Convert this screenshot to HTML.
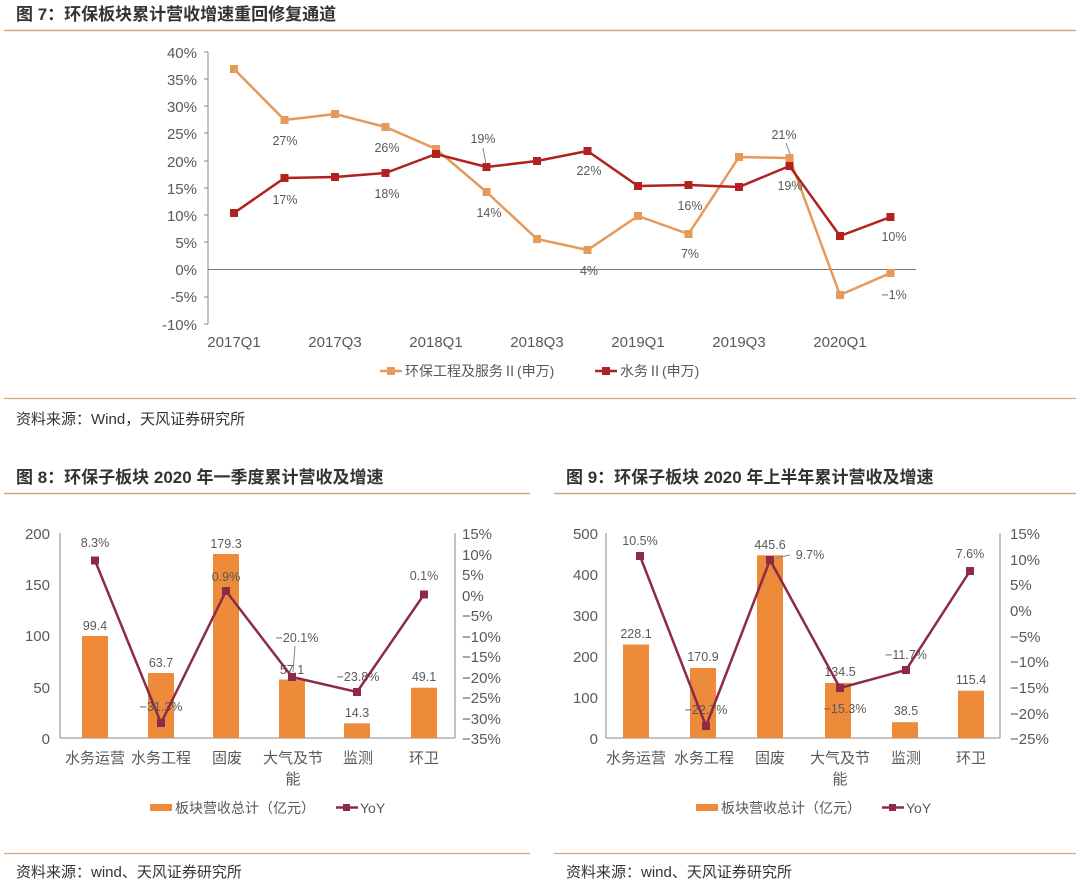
<!DOCTYPE html>
<html><head><meta charset="utf-8"><style>
body{margin:0;background:#fff}
svg{display:block}
text{font-family:"Liberation Sans","Noto Sans CJK SC",sans-serif;fill:#595959}
.t{font-weight:bold;fill:#333;font-size:17px}
.s{font-size:15px;fill:#333}
.ax{font-size:15px;fill:#555}
.lb{font-size:12.5px;fill:#595959}
</style></head><body>
<svg width="1080" height="885" viewBox="0 0 1080 885">
<!-- Chart 7 -->
<text x="16" y="20" class="t">图 7：环保板块累计营收增速重回修复通道</text>
<line x1="4" y1="30.5" x2="1076" y2="30.5" stroke="#d4aa7d" stroke-width="1.5"/>
<g class="ax" text-anchor="end">
<text x="197" y="58">40%</text><text x="197" y="85">35%</text><text x="197" y="112">30%</text>
<text x="197" y="139">25%</text><text x="197" y="167">20%</text><text x="197" y="194">15%</text>
<text x="197" y="221">10%</text><text x="197" y="248">5%</text><text x="197" y="275">0%</text>
<text x="197" y="302">-5%</text><text x="197" y="330">-10%</text>
</g>
<line x1="208" y1="52" x2="208" y2="324" stroke="#888"/>
<g stroke="#888"><line x1="204" y1="52" x2="208" y2="52"/><line x1="204" y1="79" x2="208" y2="79"/><line x1="204" y1="106" x2="208" y2="106"/><line x1="204" y1="133" x2="208" y2="133"/><line x1="204" y1="161" x2="208" y2="161"/><line x1="204" y1="188" x2="208" y2="188"/><line x1="204" y1="215" x2="208" y2="215"/><line x1="204" y1="242" x2="208" y2="242"/><line x1="204" y1="297" x2="208" y2="297"/><line x1="204" y1="324" x2="208" y2="324"/></g>
<line x1="208" y1="269.5" x2="916" y2="269.5" stroke="#777"/>
<g class="ax" text-anchor="middle">
<text x="234" y="347">2017Q1</text><text x="335" y="347">2017Q3</text><text x="436" y="347">2018Q1</text>
<text x="537" y="347">2018Q3</text><text x="638" y="347">2019Q1</text><text x="739" y="347">2019Q3</text><text x="840" y="347">2020Q1</text>
</g>
<polyline fill="none" stroke="#e59a5c" stroke-width="2.5" points="234,69 284.5,120 335,114 385.5,127 436,149 486.5,192 537,239 587.5,250 638,216 688.5,234 739,157 789.5,158 840,295 890.5,273"/>
<g fill="#e59a5c">
<rect x="230" y="65" width="8" height="8"/><rect x="280.5" y="116" width="8" height="8"/><rect x="331" y="110" width="8" height="8"/><rect x="381.5" y="123" width="8" height="8"/><rect x="432" y="145" width="8" height="8"/><rect x="482.5" y="188" width="8" height="8"/><rect x="533" y="235" width="8" height="8"/><rect x="583.5" y="246" width="8" height="8"/><rect x="634" y="212" width="8" height="8"/><rect x="684.5" y="230" width="8" height="8"/><rect x="735" y="153" width="8" height="8"/><rect x="785.5" y="154" width="8" height="8"/><rect x="836" y="291" width="8" height="8"/><rect x="886.5" y="269" width="8" height="8"/>
</g>
<polyline fill="none" stroke="#b0211f" stroke-width="2.5" points="234,213 284.5,178 335,177 385.5,173 436,154 486.5,167 537,161 587.5,151 638,186 688.5,185 739,187 789.5,166 840,236 890.5,217"/>
<g fill="#b0211f">
<rect x="230" y="209" width="8" height="8"/><rect x="280.5" y="174" width="8" height="8"/><rect x="331" y="173" width="8" height="8"/><rect x="381.5" y="169" width="8" height="8"/><rect x="432" y="150" width="8" height="8"/><rect x="482.5" y="163" width="8" height="8"/><rect x="533" y="157" width="8" height="8"/><rect x="583.5" y="147" width="8" height="8"/><rect x="634" y="182" width="8" height="8"/><rect x="684.5" y="181" width="8" height="8"/><rect x="735" y="183" width="8" height="8"/><rect x="785.5" y="162" width="8" height="8"/><rect x="836" y="232" width="8" height="8"/><rect x="886.5" y="213" width="8" height="8"/>
</g>
<g class="lb" text-anchor="middle">
<text x="285" y="145">27%</text><text x="387" y="152">26%</text><text x="285" y="204">17%</text><text x="387" y="198">18%</text>
<text x="483" y="143">19%</text><text x="589" y="175">22%</text><text x="489" y="217">14%</text><text x="589" y="275">4%</text>
<text x="690" y="210">16%</text><text x="690" y="258">7%</text><text x="784" y="139">21%</text><text x="790" y="190">19%</text>
<text x="894" y="241">10%</text><text x="894" y="299">−1%</text>
</g>
<line x1="483" y1="148" x2="486" y2="164" stroke="#888"/>
<line x1="786" y1="143" x2="790" y2="154" stroke="#888"/>
<line x1="380" y1="371" x2="402" y2="371" stroke="#e59a5c" stroke-width="2.5"/><rect x="387" y="367" width="8" height="8" fill="#e59a5c"/>
<text x="405" y="376" class="lb" style="font-size:14px">环保工程及服务Ⅱ(申万)</text>
<line x1="595" y1="371" x2="617" y2="371" stroke="#b0211f" stroke-width="2.5"/><rect x="602" y="367" width="8" height="8" fill="#b0211f"/>
<text x="620" y="376" class="lb" style="font-size:14px">水务Ⅱ(申万)</text>
<line x1="4" y1="398.5" x2="1076" y2="398.5" stroke="#d4aa7d" stroke-width="1.2"/>
<text x="16" y="424" class="s">资料来源：Wind，天风证券研究所</text>

<!-- Chart 8 -->
<text x="16" y="483" class="t">图 8：环保子板块 2020 年一季度累计营收及增速</text>
<line x1="4" y1="493.5" x2="530" y2="493.5" stroke="#d4aa7d" stroke-width="1.5"/>
<g class="ax" text-anchor="end">
<text x="50" y="539">200</text><text x="50" y="590">150</text><text x="50" y="641">100</text><text x="50" y="693">50</text><text x="50" y="744">0</text>
</g>
<line x1="60" y1="533" x2="60" y2="738" stroke="#888"/>
<line x1="60" y1="738" x2="455" y2="738" stroke="#888"/>
<line x1="455" y1="533" x2="455" y2="738" stroke="#888"/>
<g class="ax" text-anchor="start">
<text x="462" y="539">15%</text><text x="462" y="560">10%</text><text x="462" y="580">5%</text><text x="462" y="601">0%</text>
<text x="462" y="621">−5%</text><text x="462" y="642">−10%</text><text x="462" y="662">−15%</text><text x="462" y="683">−20%</text>
<text x="462" y="703">−25%</text><text x="462" y="724">−30%</text><text x="462" y="744">−35%</text>
</g>
<g fill="#ed8b3b">
<rect x="82" y="636" width="26" height="102"/><rect x="148" y="673" width="26" height="65"/><rect x="213" y="554" width="26" height="184"/>
<rect x="279" y="679.5" width="26" height="58.5"/><rect x="344" y="723.3" width="26" height="14.7"/><rect x="411" y="687.7" width="26" height="50.3"/>
</g>
<g class="lb" text-anchor="middle">
<text x="95" y="630">99.4</text><text x="161" y="667">63.7</text><text x="226" y="548">179.3</text><text x="292" y="674">57.1</text><text x="357" y="717">14.3</text><text x="424" y="681">49.1</text>
<text x="95" y="547">8.3%</text><text x="161" y="711">−31.3%</text><text x="226" y="581">0.9%</text><text x="297" y="642">−20.1%</text><text x="358" y="681">−23.8%</text><text x="424" y="580">0.1%</text>
</g>
<line x1="295" y1="646" x2="293" y2="672" stroke="#888"/>
<polyline fill="none" stroke="#8c2a4a" stroke-width="2.5" points="95,560.5 161,723 226,591 292,677 357,692 424,594.5"/>
<g fill="#8c2a4a"><rect x="91" y="556.5" width="8" height="8"/><rect x="157" y="719" width="8" height="8"/><rect x="222" y="587" width="8" height="8"/><rect x="288" y="673" width="8" height="8"/><rect x="353" y="688" width="8" height="8"/><rect x="420" y="590.5" width="8" height="8"/></g>
<g class="ax" text-anchor="middle" style="font-size:15px">
<text x="95" y="763">水务运营</text><text x="161" y="763">水务工程</text><text x="227" y="763">固废</text><text x="293" y="763">大气及节</text><text x="293" y="784">能</text><text x="358" y="763">监测</text><text x="424" y="763">环卫</text>
</g>
<rect x="150" y="804" width="22" height="7" fill="#ed8b3b"/>
<text x="175" y="813" class="lb" style="font-size:14px">板块营收总计（亿元）</text>
<line x1="336" y1="807.5" x2="358" y2="807.5" stroke="#8c2a4a" stroke-width="2.5"/><rect x="343" y="804" width="7" height="7" fill="#8c2a4a"/>
<text x="360" y="813" class="lb" style="font-size:14px">YoY</text>
<line x1="4" y1="853.5" x2="530" y2="853.5" stroke="#d4aa7d" stroke-width="1.2"/>
<text x="16" y="877" class="s">资料来源：wind、天风证券研究所</text>

<!-- Chart 9 -->
<text x="566" y="483" class="t">图 9：环保子板块 2020 年上半年累计营收及增速</text>
<line x1="554" y1="493.5" x2="1076" y2="493.5" stroke="#d4aa7d" stroke-width="1.5"/>
<g class="ax" text-anchor="end">
<text x="598" y="539">500</text><text x="598" y="580">400</text><text x="598" y="621">300</text><text x="598" y="662">200</text><text x="598" y="703">100</text><text x="598" y="744">0</text>
</g>
<line x1="606" y1="533" x2="606" y2="738" stroke="#888"/>
<line x1="606" y1="738" x2="1000" y2="738" stroke="#888"/>
<line x1="1000" y1="533" x2="1000" y2="738" stroke="#888"/>
<g class="ax" text-anchor="start">
<text x="1010" y="539">15%</text><text x="1010" y="565">10%</text><text x="1010" y="590">5%</text><text x="1010" y="616">0%</text>
<text x="1010" y="642">−5%</text><text x="1010" y="667">−10%</text><text x="1010" y="693">−15%</text><text x="1010" y="719">−20%</text><text x="1010" y="744">−25%</text>
</g>
<g fill="#ed8b3b">
<rect x="623" y="644.5" width="26" height="93.5"/><rect x="690" y="668" width="26" height="70"/><rect x="757" y="555.3" width="26" height="182.7"/>
<rect x="825" y="682.9" width="26" height="55.1"/><rect x="892" y="722.2" width="26" height="15.8"/><rect x="958" y="690.7" width="26" height="47.3"/>
</g>
<g class="lb" text-anchor="middle">
<text x="636" y="638">228.1</text><text x="703" y="661">170.9</text><text x="770" y="549">445.6</text><text x="840" y="676">134.5</text><text x="906" y="715">38.5</text><text x="971" y="684">115.4</text>
<text x="640" y="545">10.5%</text><text x="706" y="714">−22.7%</text><text x="810" y="559">9.7%</text><text x="845" y="713">−15.3%</text><text x="906" y="659">−11.7%</text><text x="970" y="558">7.6%</text>
</g>
<line x1="776" y1="558" x2="790" y2="555" stroke="#888"/>
<polyline fill="none" stroke="#8c2a4a" stroke-width="2.5" points="640,556 706,726 770,560 840,688 906,670 970,571"/>
<g fill="#8c2a4a"><rect x="636" y="552" width="8" height="8"/><rect x="702" y="722" width="8" height="8"/><rect x="766" y="556" width="8" height="8"/><rect x="836" y="684" width="8" height="8"/><rect x="902" y="666" width="8" height="8"/><rect x="966" y="567" width="8" height="8"/></g>
<g class="ax" text-anchor="middle">
<text x="636" y="763">水务运营</text><text x="704" y="763">水务工程</text><text x="770" y="763">固废</text><text x="840" y="763">大气及节</text><text x="840" y="784">能</text><text x="906" y="763">监测</text><text x="971" y="763">环卫</text>
</g>
<rect x="696" y="804" width="22" height="7" fill="#ed8b3b"/>
<text x="721" y="813" class="lb" style="font-size:14px">板块营收总计（亿元）</text>
<line x1="882" y1="807.5" x2="904" y2="807.5" stroke="#8c2a4a" stroke-width="2.5"/><rect x="889" y="804" width="7" height="7" fill="#8c2a4a"/>
<text x="906" y="813" class="lb" style="font-size:14px">YoY</text>
<line x1="554" y1="853.5" x2="1076" y2="853.5" stroke="#d4aa7d" stroke-width="1.2"/>
<text x="566" y="877" class="s">资料来源：wind、天风证券研究所</text>
</svg>
</body></html>
